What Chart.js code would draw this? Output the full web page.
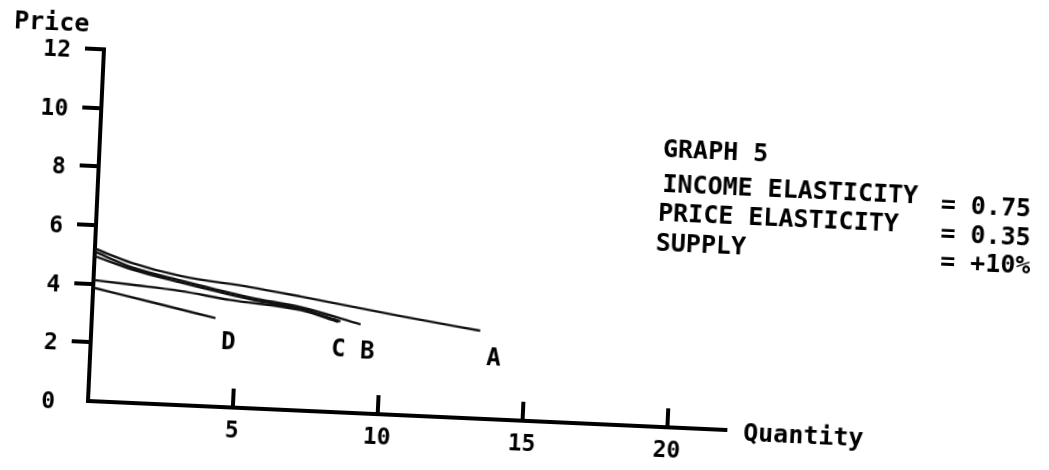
<!DOCTYPE html>
<html>
<head>
<meta charset="utf-8">
<script src="https://cdn.jsdelivr.net/npm/chart.js@4.4.1/dist/chart.umd.min.js"></script>
<style>
  html, body { margin: 0; padding: 0; background: #fff; }
  #frame { position: relative; width: 1049px; height: 470px; overflow: hidden; background: #fff; }
  /* the scanned page sits a little crooked, so the whole chart is turned */
  #chart { position: absolute; left: -25px; top: -25px; transform: rotate(2.6deg); transform-origin: 113px 426px; }
</style>
</head>
<body>
<div id="frame"><canvas id="chart" width="1099" height="520"></canvas></div>
<script>
const xTickValues = [5, 10, 15, 20];
const yTickValues = [0, 2, 4, 6, 8, 10, 12];

const curveAQty = [0, 1.3, 3.0, 5.4, 7.2, 10.6, 13.4];
const curveAPrice = [5.2, 4.77, 4.4, 4.13, 3.88, 3.38, 3.0];
const curveBQty = [0, 1.3, 3.0, 5.4, 7.2, 9.27];
const curveBPrice = [5.1, 4.62, 4.25, 3.78, 3.52, 3.03];
const curveCQty = [0, 1.3, 3.0, 5.4, 7.2, 8.57];
const curveCPrice = [4.95, 4.55, 4.18, 3.72, 3.45, 3.1];
const curveC2Qty = [0, 1.3, 3.0, 4.75, 7.2, 8.5];
const curveC2Price = [4.13, 4.03, 3.89, 3.66, 3.42, 3.08];
const curveDQty = [0, 2.1, 4.26];
const curveDPrice = [3.87, 3.45, 3.02];

const curveNames = ["A", "B", "C", "D"];
const curveNameQty = [13.9, 9.54, 8.54, 4.74];
const curveNamePrice = [2.05, 2.1, 2.13, 2.2];

const noteLines = ["GRAPH 5", "INCOME ELASTICITY", "= 0.75", "PRICE ELASTICITY", "= 0.35", "SUPPLY", "= +10%"];
const xTitle = "Quantity";
const yTitle = "Price";

const FONT = "'DejaVu Sans Mono', monospace";
Chart.defaults.font.family = FONT;
Chart.defaults.color = "#000";

function points(xs, ys) {
  return xs.map((x, i) => ({ x, y: ys[i] }));
}

function curve(xs, ys) {
  return {
    data: points(xs, ys),
    borderColor: "#111",
    borderWidth: 2.4,
    pointRadius: 0,
    cubicInterpolationMode: "monotone",
    fill: false
  };
}

// where the free text sits on the canvas (before the page turn)
const notePos = [[676, 156], [677, 191], [956, 199], [674, 220], [957, 228], [673, 250], [958, 256]];

const textPlugin = {
  id: "graphText",
  afterDatasetsDraw(chart) {
    const { ctx, scales } = chart;
    ctx.save();
    ctx.fillStyle = "#000";

    ctx.font = "bold 24px " + FONT;
    ctx.textAlign = "center";
    ctx.textBaseline = "middle";
    curveNames.forEach((name, i) => {
      ctx.fillText(name, scales.x.getPixelForValue(curveNameQty[i]), scales.y.getPixelForValue(curveNamePrice[i]));
    });

    ctx.font = "bold 25px " + FONT;
    ctx.textAlign = "left";
    ctx.textBaseline = "alphabetic";
    noteLines.forEach((line, i) => ctx.fillText(line, notePos[i][0], notePos[i][1]));

    ctx.fillText(yTitle, 22, 57);
    ctx.fillText(xTitle, 769, 436);
    ctx.restore();
  }
};

new Chart(document.getElementById("chart"), {
  type: "line",
  data: {
    datasets: [
      curve(curveAQty, curveAPrice),
      curve(curveBQty, curveBPrice),
      curve(curveCQty, curveCPrice),
      curve(curveC2Qty, curveC2Price),
      curve(curveDQty, curveDPrice)
    ]
  },
  options: {
    responsive: false,
    animation: false,
    devicePixelRatio: 1,
    layout: { padding: { top: 74, right: 348, left: 0, bottom: 0 } },
    plugins: { legend: { display: false }, tooltip: { enabled: false } },
    scales: {
      x: {
        type: "linear",
        min: 0,
        max: 22,
        afterBuildTicks: s => { s.ticks = xTickValues.map(v => ({ value: v })); },
        afterFit: s => { s.height = 94; },
        border: { color: "#000", width: 4 },
        grid: { drawOnChartArea: false, tickLength: -19, lineWidth: 4, color: "#000" },
        ticks: { padding: 29, color: "#000", font: { size: 23, weight: "bold" }, maxRotation: 0, autoSkip: false }
      },
      y: {
        type: "linear",
        min: 0,
        max: 12,
        afterBuildTicks: s => { s.ticks = yTickValues.map(v => ({ value: v })); },
        afterFit: s => { s.width = 113; },
        border: { color: "#000", width: 4 },
        grid: {
          drawOnChartArea: false,
          tickLength: 19,
          lineWidth: 4,
          color: c => (c.tick && c.tick.value === 0 ? "rgba(0,0,0,0)" : "#000")
        },
        ticks: { padding: 14, labelOffset: 3, color: "#000", font: { size: 23, weight: "bold" }, autoSkip: false }
      }
    }
  },
  plugins: [textPlugin]
});
</script>
</body>
</html>
